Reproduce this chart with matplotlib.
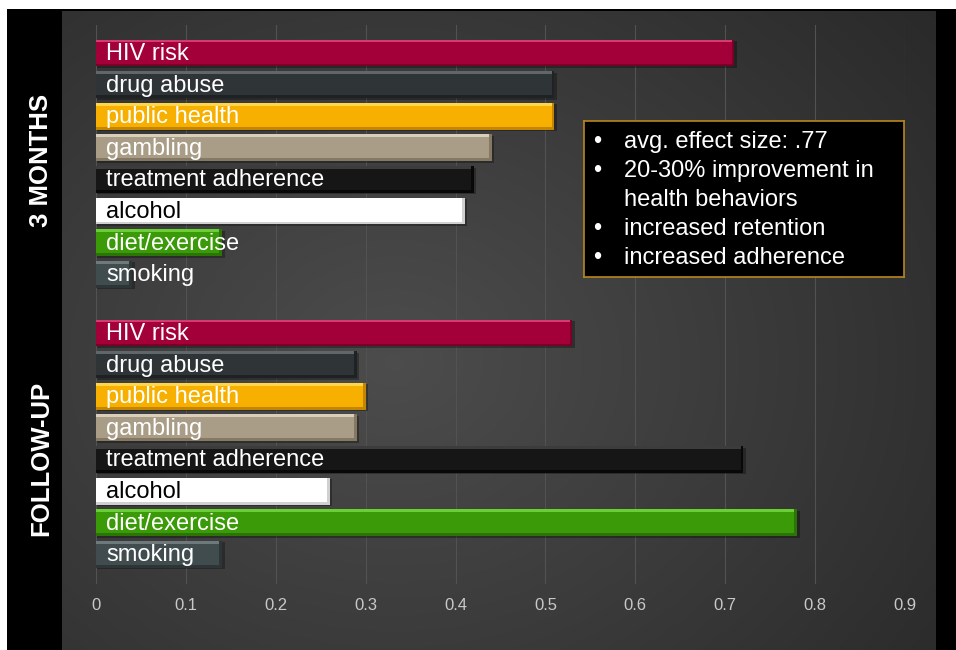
import numpy as np
import matplotlib.pyplot as plt

plt.rcParams['font.family'] = ['Liberation Sans', 'DejaVu Sans']

# categories, top to bottom inside each group
categories = ['HIV risk', 'drug abuse', 'public health', 'gambling',
              'treatment adherence', 'alcohol', 'diet/exercise', 'smoking']
groups = ['3 MONTHS', 'FOLLOW-UP']
three_months = [0.71, 0.51, 0.51, 0.44, 0.42, 0.41, 0.14, 0.04]
follow_up = [0.53, 0.29, 0.30, 0.29, 0.72, 0.26, 0.78, 0.14]
xticks = [0, 0.1, 0.2, 0.3, 0.4, 0.5, 0.6, 0.7, 0.8, 0.9]
notes = ['avg. effect size: .77', '20-30% improvement in\nhealth behaviors',
         'increased retention', 'increased adherence']

# main colour, top highlight, bottom shade
bar_colors = {
    'HIV risk': ('#A3003A', '#D63A6E', '#7A0028'),
    'drug abuse': ('#2F3437', '#60676B', '#1E2224'),
    'public health': ('#F8B000', '#FFD54A', '#C48600'),
    'gambling': ('#A99D88', '#D9CEB9', '#857964'),
    'treatment adherence': ('#161616', '#3C3C3C', '#080808'),
    'alcohol': ('#FFFFFF', '#FFFFFF', '#D0D0D0'),
    'diet/exercise': ('#3A9A08', '#6ACF34', '#2A7505'),
    'smoking': ('#414C4F', '#6E797C', '#2D3537'),
}

W, H = 956, 650
fig = plt.figure(figsize=(W / 100, H / 100), dpi=100)
fig.patch.set_facecolor('white')

# black frame + left strip
frame = fig.add_axes([7 / W, 0, 1 - 7 / W, 1 - 9 / H])
frame.set_facecolor('black')
frame.set_xticks([])
frame.set_yticks([])
for s in frame.spines.values():
    s.set_visible(False)

# grey radial gradient panel
bg = fig.add_axes([62 / W, 0, (936 - 62) / W, 1 - 11 / H])
gx, gy = np.meshgrid(np.linspace(0, 1, 300), np.linspace(0, 1, 220))
r = np.sqrt(((gx - 0.38) / 0.75) ** 2 + ((gy - 0.55) / 0.85) ** 2)
shade = np.clip(0.30 - 0.13 * r, 0.15, 0.31)
bg.imshow(np.dstack([shade] * 3), extent=[0, 1, 0, 1], aspect='auto', origin='upper')
bg.set_xticks([])
bg.set_yticks([])
for s in bg.spines.values():
    s.set_visible(False)

# data axes: x=0 at px 96, x=0.9 at px 905, grid from px 25 to 584
ax = fig.add_axes([96 / W, (H - 584) / H, (905 - 96) / W, (584 - 25) / H])
ax.patch.set_alpha(0)
ax.set_xlim(0, 0.9)
ax.set_ylim(16.8, -0.886)

group_gap = 8.86
bar_h = 0.85
label_mid = [3.39, 3.96]  # where each group title sits, in bar slots
for g, vals in enumerate([three_months, follow_up]):
    for i, (cat, v) in enumerate(zip(categories, vals)):
        y = i + g * group_gap
        main, hi, lo = bar_colors[cat]
        # drop shadow
        ax.barh(y + 0.05, v + 0.002, height=bar_h, left=0.001, color='black', alpha=0.3, zorder=2)
        ax.barh(y, v, height=bar_h, color=main, zorder=3)
        ax.barh(y - bar_h / 2 + 0.045, v, height=0.09, color=hi, zorder=4)
        ax.barh(y + bar_h / 2 - 0.045, v, height=0.09, color=lo, zorder=4)
        ax.barh(y, 0.003, left=v - 0.003, height=bar_h, color=lo, zorder=4)
        ax.text(0.011, y + 0.03, cat, va='center', ha='left', fontsize=17,
                color='black' if cat == 'alcohol' else 'white', zorder=5)
    ax.text(-0.061, group_gap * g + label_mid[g], groups[g], rotation=90,
            va='center', ha='center', fontsize=18.5, fontweight='bold',
            color='white', clip_on=False)

ax.set_xticks(xticks)
ax.set_xticklabels(['0' if t == 0 else f'{t:g}' for t in xticks])
ax.tick_params(axis='x', length=0, pad=10, labelsize=12, labelcolor='#C8C8C8')
ax.set_yticks([])
ax.grid(axis='x', color='#525252', linewidth=0.8, zorder=0)
ax.set_axisbelow(True)
for s in ax.spines.values():
    s.set_visible(False)

# notes box
box = fig.add_axes([584 / W, (H - 277) / H, (904 - 584) / W, (277 - 121) / H])
box.set_facecolor('black')
box.set_xticks([])
box.set_yticks([])
for s in box.spines.values():
    s.set_edgecolor('#B8861E')
    s.set_linewidth(1.2)
line_y = 0.865
for note in notes:
    box.text(0.03, line_y, '\u2022', color='white', fontsize=17, va='center', transform=box.transAxes)
    for k, part in enumerate(note.split('\n')):
        box.text(0.125, line_y, part, color='white', fontsize=17, va='center', transform=box.transAxes)
        line_y -= 0.186

fig.savefig('out.png', dpi=100, facecolor=fig.get_facecolor())
